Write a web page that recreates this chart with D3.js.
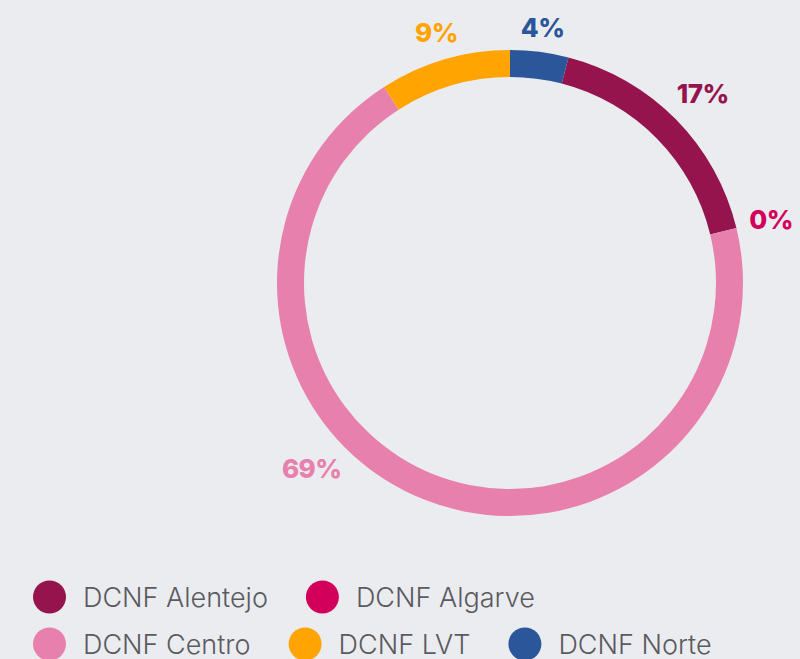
<!DOCTYPE html>
<html>
<head>
<meta charset="utf-8">
<script src="https://cdn.jsdelivr.net/npm/d3@7"></script>
<style>
  html, body { margin: 0; padding: 0; background: #ebecf0; }
  svg { display: block; }
</style>
</head>
<body>
<div id="chart"></div>
<script>
'use strict';

// data
var categories = ['DCNF Alentejo', 'DCNF Algarve', 'DCNF Centro', 'DCNF LVT', 'DCNF Norte'];
var shares     = [17, 0, 69, 9, 4];
var colours    = ['#95144d', '#d2005b', '#e780ad', '#ffa400', '#2b5699'];

var width = 800, height = 659;
var cx = 510, cy = 283;
var outerR = 233, innerR = 206;
var labelGap = 12;

var svg = d3.select('#chart').append('svg')
    .attr('width', width)
    .attr('height', height);

svg.append('rect')
    .attr('width', width)
    .attr('height', height)
    .attr('fill', '#ebecf0');

var total = d3.sum(shares);
// the last category (Norte) sits just before 12 o'clock
var offset = 2 * Math.PI * shares[shares.length - 1] / total;

var pie = d3.pie()
    .sort(null)
    .value(function(d){ return d.value; })
    .startAngle(offset)
    .endAngle(offset + 2 * Math.PI);

var data = categories.map(function(c, i){
    return {name: c, value: shares[i], colour: colours[i]};
});

var arcs = pie(data);

var arc = d3.arc()
    .innerRadius(innerR)
    .outerRadius(outerR);

var chart = svg.append('g')
    .attr('transform', 'translate(' + cx + ',' + cy + ')');

chart.selectAll('path.slice')
    .data(arcs)
    .enter()
    .append('path')
    .attr('class', 'slice')
    .attr('d', arc)
    .attr('fill', function(d){ return d.data.colour; });

// labels: box kept a fixed gap off the ring, pushed up if too low
var maxY = 185;
chart.selectAll('text.lbl')
    .data(arcs)
    .enter()
    .append('text')
    .attr('class', 'lbl')
    .attr('text-anchor', 'middle')
    .attr('dominant-baseline', 'central')
    .attr('font-family', 'Inter, sans-serif')
    .attr('font-weight', 800)
    .attr('font-size', 26)
    .attr('letter-spacing', -0.5)
    .attr('fill', function(d){ return d.data.colour; })
    .text(function(d){ return d.value + '%'; })
    .each(function(d){
        var bb = this.getBBox();
        var hw = bb.width / 2, hh = 10;
        var a = (d.startAngle + d.endAngle) / 2;
        var s = Math.sin(a), c = Math.cos(a);
        var r = outerR + labelGap + Math.abs(s) * hw + Math.abs(c) * hh;
        var x = s * r;
        var y = -c * r;
        if (y > maxY) {
            y = maxY;
            var dx = Math.sqrt(r * r - y * y) + 8;
            x = x < 0 ? -dx : dx;
        }
        d3.select(this).attr('x', x).attr('y', y);
    });

// legend
var legend = svg.append('g').attr('class', 'legend');
var lx0 = 33, lxMax = 760, ly0 = 597, rowH = 47;
var symR = 16.5, symGap = 17, itemGap = 38;
var lx = lx0, ly = ly0;

data.forEach(function(d){
    var item = legend.append('g');
    var txt = item.append('text')
        .attr('font-family', 'Inter, sans-serif')
        .attr('font-weight', 300)
        .attr('font-size', 27)
        .attr('fill', '#5a5a5f')
        .attr('dominant-baseline', 'central')
        .text(d.name);
    var tw = txt.node().getComputedTextLength();
    var w = symR * 2 + symGap + tw;
    if (lx + w > lxMax) { lx = lx0; ly += rowH; }
    item.append('circle')
        .attr('cx', lx + symR)
        .attr('cy', ly)
        .attr('r', symR)
        .attr('fill', d.colour);
    txt.attr('x', lx + symR * 2 + symGap).attr('y', ly);
    lx += w + itemGap;
});
</script>
</body>
</html>
